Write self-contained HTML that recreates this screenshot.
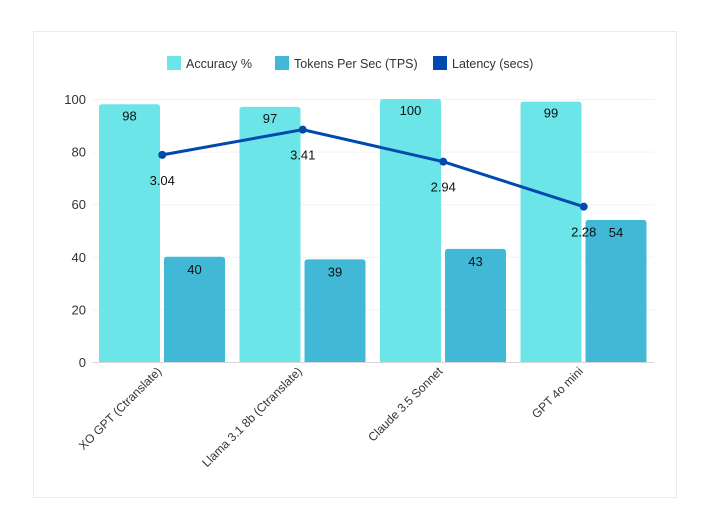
<!DOCTYPE html>
<html><head><meta charset="utf-8"><style>
body{margin:0;background:#fff;font-family:"Liberation Sans",sans-serif;}
svg text{font-family:"Liberation Sans",sans-serif;}
</style></head><body>
<svg id="chart" width="704" height="524" xmlns="http://www.w3.org/2000/svg">
<rect x="33.5" y="31.5" width="643" height="466" fill="#fff" stroke="#eaeaea"/>
<g>
<g><rect x="167" y="56" width="14" height="14" fill="#6ce5e8"/><text x="186" y="68" font-size="12.5" fill="#333">Accuracy %</text></g>
<g><rect x="275" y="56" width="14" height="14" fill="#41b8d5"/><text x="294" y="68" font-size="12.5" fill="#333">Tokens Per Sec (TPS)</text></g>
<g><rect x="433" y="56" width="14" height="14" fill="#004aad"/><text x="452" y="68" font-size="12.5" fill="#333">Latency (secs)</text></g>
</g>
<g id="grid"></g><g id="bars"></g><g id="line"></g><g id="labels"></g>
</svg>
<script>
const categories=["XO GPT (Ctranslate)","Llama 3.1 8b (Ctranslate)","Claude 3.5 Sonnet","GPT 4o mini"];
const accuracy=[98,97,100,99];
const tps=[40,39,43,54];
const latency=[3.04,3.41,2.94,2.28];
const yTicks=[0,20,40,60,80,100];
const NS="http://www.w3.org/2000/svg";
const x0=92,band=140.5,yTop=99,yBot=362,latMax=3.86;
const y=v=>yBot-(v/100)*(yBot-yTop);
const yl=v=>yBot-(v/latMax)*(yBot-yTop);
const cx=i=>x0+band*i+band/2;
function mk(tag,attrs,parent,txt){const e=document.createElementNS(NS,tag);for(const k in attrs)e.setAttribute(k,attrs[k]);if(txt!==undefined)e.textContent=txt;document.getElementById(parent).appendChild(e);return e;}
yTicks.forEach(t=>{
 const l=mk('line',{x1:x0,x2:654,y1:y(t)+0.5,y2:y(t)+0.5,stroke:t===0?'#d8d8d8':'#f2f2f2'},'grid');
 
 
 const tx=mk('text',{x:86,y:y(t)+5,'text-anchor':'end','font-size':'13',fill:'#333'},'grid',String(t));
 
 
});
function bar(xl,v,fill,name){
 const w=61,h=yBot-y(v),r=3,yt=y(v);
 const p=mk('path',{d:`M${xl},${yBot}V${yt+r}Q${xl},${yt} ${xl+r},${yt}H${xl+w-r}Q${xl+w},${yt} ${xl+w},${yt+r}V${yBot}Z`,fill:fill},'bars');
 
 
}
categories.forEach((c,i)=>{
 const g0=x0+band*i+7;
 bar(g0,accuracy[i],'#6ce5e8','bar-accuracy');
 bar(g0+65,tps[i],'#41b8d5','bar-tps');
 const a=mk('text',{x:g0+30.5,y:y(accuracy[i])+16,'text-anchor':'middle','font-size':'13',fill:'#111'},'labels',String(accuracy[i]));
 
 
 const b=mk('text',{x:g0+95.5,y:y(tps[i])+17,'text-anchor':'middle','font-size':'13',fill:'#111'},'labels',String(tps[i]));
 
 
 const lx=cx(i),ly=yBot+10;
 const ct=mk('text',{x:lx,y:ly,'text-anchor':'end','font-size':'12',fill:'#333',transform:`rotate(-45 ${lx} ${ly})`},'labels',c);
 
 
});
const pts=latency.map((v,i)=>[cx(i),yl(v)]);
const pl=mk('polyline',{points:pts.map(p=>p.join(',')).join(' '),fill:'none',stroke:'#004aad','stroke-width':'3'},'line');


pts.forEach((p,i)=>{
 const c=mk('circle',{cx:p[0],cy:p[1],r:4,fill:'#004aad'},'line');
 
 
 const t=mk('text',{x:p[0],y:p[1]+30,'text-anchor':'middle','font-size':'13',fill:'#111'},'labels',latency[i].toFixed(2));
 
 
});
</script>
</body></html>
